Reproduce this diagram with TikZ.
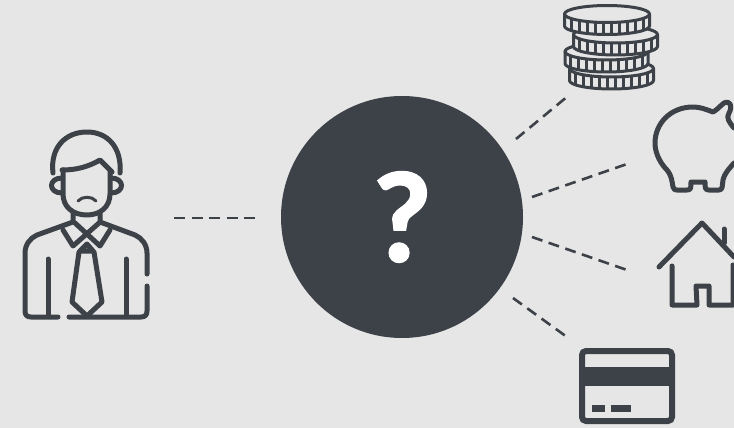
\documentclass[tikz,border=0pt]{standalone}
\usepackage{fontspec}
\newfontfamily\markfont[BoldFeatures={FakeBold=1.4}]{Carlito}
\usepackage{tikz}
\definecolor{bgcol}{HTML}{E6E6E6}
\definecolor{inkcol}{HTML}{3D4249}
\tikzset{
  icon line/.style={
    draw=inkcol,
    line width=5pt,
    line cap=round,
    line join=round
  },
  coin line/.style={
    draw=inkcol,
    fill=bgcol,
    line width=3pt,
    line join=round
  },
  dash line/.style={
    draw=inkcol,
    line width=2.6pt,
    dash pattern=on 11pt off 6.6pt
  }
}
\newcommand{\coinat}[3]{%
  \draw[coin line] (#1-#3,#2) -- ++(0,12) arc (180:0:#3 and 8.5) -- ++(0,-12);
  \foreach \t in {-36,-28,...,36} {
    \draw[coin line] ({#1+\t},{#2+8.5*sqrt(1-(\t/#3)*(\t/#3))}) -- ++(0,12);
  }
  \draw[coin line] (#1,#2) ellipse (#3 and 8.5);
}
\begin{document}
\begin{tikzpicture}[x=1pt, y=-1pt]
    \useasboundingbox (0,0) rectangle (734,428);
    \fill[bgcol] (0,0) rectangle (734,428);

    % Centre disc
    \node[circle, fill=inkcol, text=white, inner sep=0pt, minimum size=242pt,
      font=\markfont\bfseries\fontsize{130}{130}\selectfont] (mark) at (402,217) {?};

    % Person
    \draw[icon line] (53,173) .. controls (50,148) and (65,132) .. (87,132)
      .. controls (108,132) and (122,148) .. (120,173);
    \draw[icon line] (62,170) .. controls (76,170) and (88,167) .. (100,160) -- (112,172);
    \draw[icon line] (63,170) -- (63,194) .. controls (63,207) and (73,215) .. (87,215)
      .. controls (100,215) and (110,207) .. (110,194) -- (110,172);
    \draw[icon line] (62,178) .. controls (48,178) and (48,193) .. (62,193);
    \draw[icon line] (111,178) .. controls (125,178) and (125,193) .. (111,193);
    \draw[line width=3pt, draw=inkcol, line cap=round] (78,201) .. controls (82,196) and (92,196) .. (96,201);
    \draw[icon line] (73,213) -- (73,222) -- (37,235) .. controls (30,238) and (25,245) .. (25,253)
      -- (25,311) .. controls (25,315) and (27,317) .. (31,317) -- (58,317);
    \draw[icon line] (100,213) -- (100,222) -- (135,235) .. controls (142,238) and (147,245) .. (147,253) -- (147,274);
    \draw[icon line] (147,286) -- (147,311) .. controls (147,315) and (145,317) .. (141,317) -- (69,317);
    \draw[icon line] (75,223) -- (100,246) -- (110,230);
    \draw[icon line] (99,223) -- (73,246) -- (63,230);
    \draw[icon line] (80,251) -- (87,244) -- (93,251) -- cycle;
    \draw[icon line] (79,252) -- (72,302) -- (87,316) -- (102,302) -- (94,252);
    \draw[icon line] (48,259) -- (48,316);
    \draw[icon line] (126,259) -- (126,316);

    % Coins, lowest first
    \coinat{611.5}{68.5}{42}
    \coinat{606.5}{51.5}{41.5}
    \coinat{615.5}{34.5}{42}
    \coinat{607}{14}{42.5}

    % Piggy bank
    \draw[icon line] (734,128) .. controls (729,122) and (726,118) .. (729,113)
      .. controls (733,106) and (730,100) .. (724,103)
      .. controls (720,106) and (717,110) .. (713,112)
      .. controls (705,109) and (700,107) .. (693,107)
      .. controls (670,107) and (655,124) .. (655,143)
      .. controls (655,155) and (662,165) .. (667,170)
      .. controls (672,176) and (672,182) .. (673,187) .. controls (674,190) and (675,190) .. (677,190)
      -- (687,190) .. controls (691,190) and (691,188) .. (691,182)
      -- (705,182) .. controls (705,188) and (705,190) .. (709,190) -- (719,190)
      .. controls (723,190) and (722,186) .. (723,180) .. controls (725,172) and (730,168) .. (734,163);

    % House
    \draw[icon line] (659,267) -- (702,223) -- (734,257);
    \draw[icon line] (724,229) -- (724,243);
    \draw[icon line] (672,266) -- (672,305) -- (697,305) -- (696,286) -- (709,286) -- (709,305) -- (733,305) -- (733,265);

    % Card
    \draw[draw=inkcol, line width=6pt, rounded corners=4pt] (582,351) rectangle (672,421);
    \fill[inkcol] (582,367) rectangle (672,386);
    \fill[inkcol] (592,405) rectangle (605,412);
    \fill[inkcol] (611,405) rectangle (631,412);

    % Dashed connectors
    \coordinate (person end) at (174,218);
    \coordinate (mark west) at (257,218);
    \coordinate (mark a) at (516,139);
    \coordinate (coins end) at (568,96);
    \coordinate (mark b) at (532,197);
    \coordinate (piggy end) at (627,164);
    \coordinate (mark c) at (532,237);
    \coordinate (house end) at (627,270);
    \coordinate (mark d) at (513,298);
    \coordinate (card end) at (567,337);
    \draw[dash line] (person end) -- (mark west);
    \draw[dash line] (mark a) -- (coins end);
    \draw[dash line] (mark b) -- (piggy end);
    \draw[dash line] (mark c) -- (house end);
    \draw[dash line] (mark d) -- (card end);
\end{tikzpicture}
\end{document}
